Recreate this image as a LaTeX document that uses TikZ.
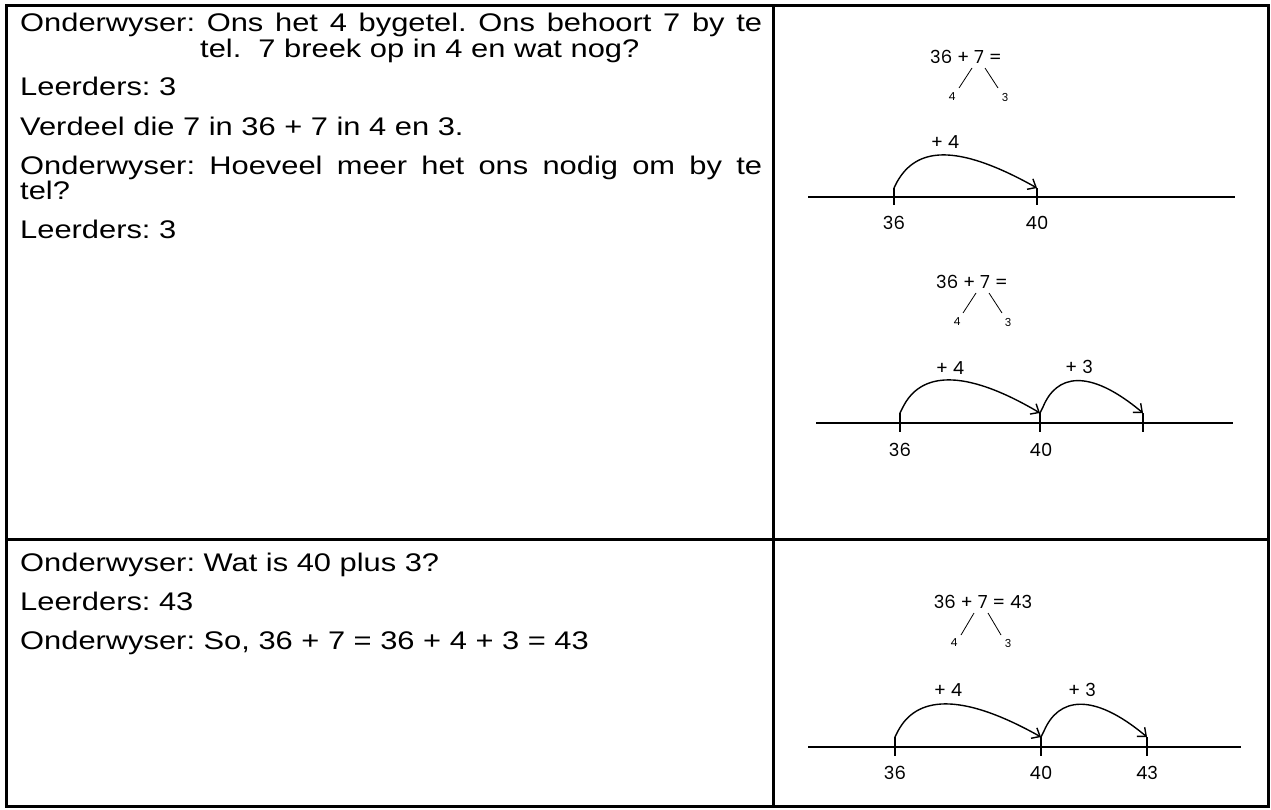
\documentclass[tikz,border=0pt]{standalone}
\usepackage{fontspec}
\setmainfont{Liberation Sans}[FakeStretch=1.21]
\newfontfamily\numfont{Poppins}
\usetikzlibrary{arrows.meta}
\frenchspacing
\begin{document}
\begin{tikzpicture}[x=1pt,y=-1pt,
  txt/.style={anchor=base west, inner sep=0pt, font=\fontsize{25.5}{28}\selectfont},
  eq/.style={inner sep=0pt, font=\numfont\fontsize{18}{20}\selectfont},
  sm/.style={inner sep=0pt, font=\numfont\fontsize{11}{13}\selectfont},
  lab/.style={inner sep=0pt, font=\numfont\fontsize{18}{20}\selectfont},
  nline/.style={line width=1.6pt},
  tickl/.style={line width=1.6pt},
  jump/.style={line width=1.4pt, -{Straight Barb[length=7pt,width=12pt,line width=1.4pt]}},
  split/.style={line width=0.8pt},
  border/.style={line width=3pt}]
\useasboundingbox (0,0) rectangle (1271,809);
% table
\coordinate (TL) at (6,5);
\coordinate (BR) at (1268,806);
\coordinate (VT) at (773,5);
\coordinate (VB) at (773,806);
\coordinate (HL) at (6,539);
\coordinate (HR) at (1268,539);
\draw[border] (TL) rectangle (BR);
\draw[border] (VT) -- (VB);
\draw[border] (HL) -- (HR);
% left texts, top row
\node[txt] (t1) at (20,31) {\makebox[742pt][s]{Onderwyser: Ons het 4 bygetel. Ons behoort 7 by te}};
\node[txt] (t2) at (200,57) {tel.\ \ 7 breek op in 4 en wat nog?};
\node[txt] (t3) at (20,95) {Leerders: 3};
\node[txt] (t4) at (20,135) {Verdeel die 7 in 36 + 7 in 4 en 3.};
\node[txt] (t5) at (20,174) {\makebox[742pt][s]{Onderwyser: Hoeveel meer het ons nodig om by te}};
\node[txt] (t6) at (20,199) {tel?};
\node[txt] (t7) at (20,238) {Leerders: 3};
% left texts, bottom row
\node[txt] (u1) at (20,571) {Onderwyser: Wat is 40 plus 3?};
\node[txt] (u2) at (20,610) {Leerders: 43};
\node[txt] (u3) at (20,649) {Onderwyser: So, 36 + 7 = 36 + 4 + 3 = 43};
% ---------- panel 1
\node[eq] (e1) at (966,57) {36 + 7 =};
\node[sm] (a1) at (952,97) {4};
\node[sm] (b1) at (1005,97) {3};
\coordinate (s1a) at (972,68); \coordinate (s1b) at (959,88);
\coordinate (s1c) at (985,68); \coordinate (s1d) at (998,88);
\draw[split] (s1a) -- (s1b); \draw[split] (s1c) -- (s1d);
\node[eq] (p1) at (945,142) {+ 4};
\coordinate (L1a) at (808,197); \coordinate (L1b) at (1235,197);
\draw[nline] (L1a) -- (L1b);
\coordinate (k1a) at (894,188); \coordinate (k1A) at (894,205);
\coordinate (k1b) at (1037,188); \coordinate (k1B) at (1037,205);
\draw[tickl] (k1a) -- (k1A); \draw[tickl] (k1b) -- (k1B);
\node[lab] (n1a) at (894,223) {36};
\node[lab] (n1b) at (1037,223) {40};
\draw[jump] (k1a) -- (897,182) .. controls (916,148) and (955,142) .. (k1b);
% ---------- panel 2
\node[eq] (e2) at (972,282) {36 + 7 =};
\node[sm] (a2) at (957,322) {4};
\node[sm] (b2) at (1008,322) {3};
\coordinate (s2a) at (976,293); \coordinate (s2b) at (963,313);
\coordinate (s2c) at (989,293); \coordinate (s2d) at (1002,313);
\draw[split] (s2a) -- (s2b); \draw[split] (s2c) -- (s2d);
\node[eq] (p2a) at (950,368) {+ 4};
\node[eq] (p2b) at (1079,367) {+ 3};
\coordinate (L2a) at (816,423); \coordinate (L2b) at (1233,423);
\draw[nline] (L2a) -- (L2b);
\coordinate (k2a) at (900,413); \coordinate (k2A) at (900,432);
\coordinate (k2b) at (1040,413); \coordinate (k2B) at (1040,432);
\coordinate (k2c) at (1143,413); \coordinate (k2C) at (1143,432);
\draw[tickl] (k2a) -- (k2A); \draw[tickl] (k2b) -- (k2B); \draw[tickl] (k2c) -- (k2C);
\node[lab] (n2a) at (900,450) {36};
\node[lab] (n2b) at (1041,450) {40};
\draw[jump] (k2a) -- (903,407) .. controls (920,373) and (962,367) .. (k2b);
\draw[jump] (k2b) -- (1043,407) .. controls (1056,375) and (1088,367) .. (k2c);
% ---------- panel 3
\node[eq] (e3) at (983,602) {36 + 7 = 43};
\node[sm] (a3) at (954,643) {4};
\node[sm] (b3) at (1008,643) {3};
\coordinate (s3a) at (974,613); \coordinate (s3b) at (961,635);
\coordinate (s3c) at (988,613); \coordinate (s3d) at (1001,635);
\draw[split] (s3a) -- (s3b); \draw[split] (s3c) -- (s3d);
\node[eq] (p3a) at (948,690) {+ 4};
\node[eq] (p3b) at (1082,690) {+ 3};
\coordinate (L3a) at (808,747); \coordinate (L3b) at (1241,747);
\draw[nline] (L3a) -- (L3b);
\coordinate (k3a) at (895,737); \coordinate (k3A) at (895,756);
\coordinate (k3b) at (1041,737); \coordinate (k3B) at (1041,756);
\coordinate (k3c) at (1147,737); \coordinate (k3C) at (1147,756);
\draw[tickl] (k3a) -- (k3A); \draw[tickl] (k3b) -- (k3B); \draw[tickl] (k3c) -- (k3C);
\node[lab] (n3a) at (895,773) {36};
\node[lab] (n3b) at (1041,773) {40};
\node[lab] (n3c) at (1147,773) {43};
\draw[jump] (k3a) -- (898,731) .. controls (916,697) and (959,691) .. (k3b);
\draw[jump] (k3b) -- (1044,731) .. controls (1058,698) and (1092,691) .. (k3c);
\end{tikzpicture}
\end{document}
